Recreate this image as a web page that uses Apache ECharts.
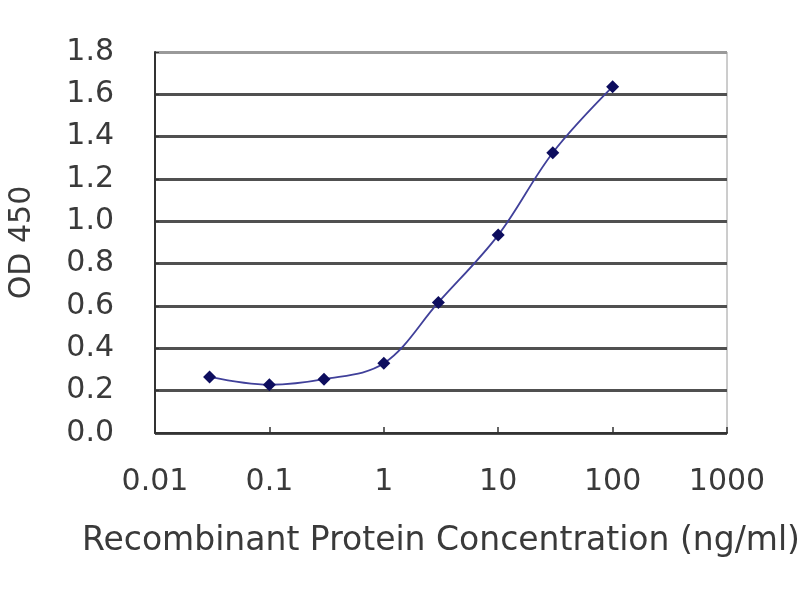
<!DOCTYPE html>
<html>
<head>
<meta charset="utf-8">
<script src="https://cdn.jsdelivr.net/npm/echarts@6/dist/echarts.min.js"></script>
<style>html,body{margin:0;padding:0;background:#fff;}#c{width:800px;height:600px;}</style>
</head>
<body>
<div id="c"></div>
<script>
const concentrations = [0.03, 0.1, 0.3, 1, 3, 10, 30, 100];
const od450 = [0.265, 0.228, 0.254, 0.329, 0.617, 0.935, 1.324, 1.636];
const xTickLabels = ['0.01', '0.1', '1', '10', '100', '1000'];
const yTickLabels = ['0.0','0.2','0.4','0.6','0.8','1.0','1.2','1.4','1.6','1.8'];
const xTitle = 'Recombinant Protein Concentration (ng/ml)';
const yTitle = 'OD 450';

const chart = echarts.init(document.getElementById('c'));
const font = 'DejaVu Sans, sans-serif';
const gridColors = yTickLabels.map((t, i) => i === yTickLabels.length - 1 ? '#9a9a9a' : '#505050');
chart.setOption({
  backgroundColor: '#ffffff',
  animation: false,
  grid: { left: 155, right: 73, top: 52, bottom: 167, show: true, borderColor: '#9a9a9a', borderWidth: 1, containLabel: false, outerBoundsMode: 'none' },
  xAxis: {
    type: 'log', logBase: 10, min: 0.01, max: 1000,
    name: xTitle, nameLocation: 'middle', nameGap: 92,
    nameTextStyle: { fontFamily: font, fontSize: 33, color: '#3a3a3a' },
    axisLine: { show: true, lineStyle: { color: '#333', width: 2 } },
    axisTick: { show: true, inside: true, length: 6, lineStyle: { color: '#333', width: 1.5 } },
    axisLabel: {
      fontFamily: font, fontSize: 30, color: '#3a3a3a', margin: 34,
      formatter: v => { const i = Math.round(Math.log10(v)) + 2; return xTickLabels[i] || ''; }
    },
    splitLine: { show: false },
    minorTick: { show: false }
  },
  yAxis: {
    type: 'value', min: 0, max: 1.8, interval: 0.2,
    name: yTitle, nameLocation: 'middle', nameGap: 118, nameRotate: 90,
    nameTextStyle: { fontFamily: font, fontSize: 30, color: '#3a3a3a' },
    axisLine: { show: true, lineStyle: { color: '#333', width: 2 } },
    axisTick: { show: true, inside: true, length: 4, lineStyle: { color: '#333' } },
    axisLabel: {
      fontFamily: font, fontSize: 30, color: '#3a3a3a', margin: 41,
      formatter: v => yTickLabels[Math.round(v / 0.2)] || ''
    },
    splitLine: { show: true, lineStyle: { color: gridColors, width: 2.8 } }
  },
  series: [{
    type: 'line',
    data: concentrations.map((c, i) => [c, od450[i]]),
    smooth: 0.35,
    symbol: 'diamond',
    symbolSize: 13,
    lineStyle: { color: '#40409a', width: 1.8 },
    itemStyle: { color: '#0d0d5e' }
  }]
});
</script>
</body>
</html>
